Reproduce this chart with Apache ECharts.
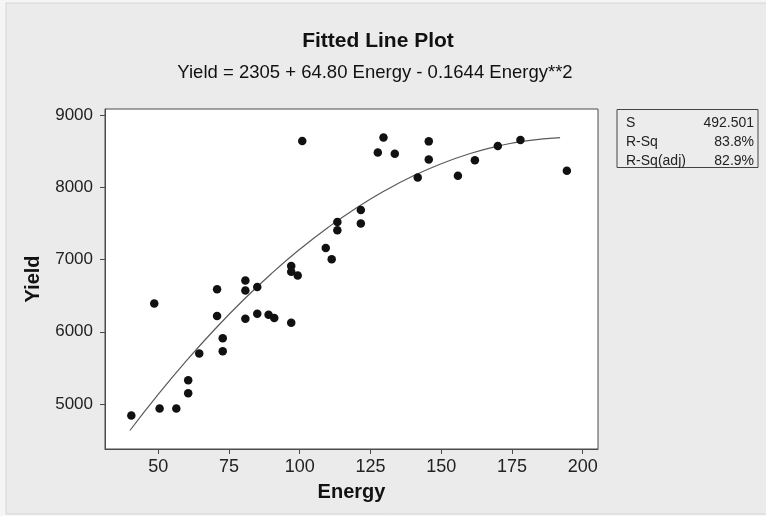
<!DOCTYPE html>
<html>
<head>
<meta charset="utf-8">
<script src="https://cdn.jsdelivr.net/npm/echarts@6/dist/echarts.min.js"></script>
<style>
html,body{margin:0;padding:0;background:#f5f5f5;}
#chart{width:766px;height:516px;}
</style>
</head>
<body>
<div id="chart"></div>
<script>
// ---- data ----
const energy = [40.5, 48.6, 50.5, 56.4, 60.6, 60.6, 64.5, 70.8, 70.8, 72.8, 72.8, 80.8, 80.8, 80.8, 85, 85, 89, 91, 97, 97, 97, 99.3, 100.9, 109.2, 111.3, 113.3, 113.3, 121.6, 121.6, 127.6, 129.6, 133.6, 141.7, 145.6, 145.6, 155.9, 161.9, 170, 178, 194.4];
const yieldVals = [4840, 6390, 4940, 4940, 5330, 5150, 5700, 6590, 6220, 5910, 5730, 6710, 6570, 6180, 6620, 6250, 6235, 6190, 6910, 6830, 6125, 6780, 8640, 7160, 7005, 7520, 7405, 7685, 7500, 8480, 8690, 8465, 8135, 8635, 8385, 8160, 8375, 8570, 8655, 8230];
const fitEnergy = [40, 50, 60, 70, 80, 90, 100, 110, 120, 130, 140, 150, 160, 170, 180, 192];
const fitYield = [4634, 5134, 5601, 6035, 6437, 6805, 7141, 7444, 7714, 7951, 8155, 8326, 8464, 8570, 8642, 8686];
const xTicks = [50, 75, 100, 125, 150, 175, 200];
const yTicks = [5000, 6000, 7000, 8000, 9000];
const statLabels = ['S', 'R-Sq', 'R-Sq(adj)'];
const statValues = ['492.501', '83.8%', '82.9%'];
const titleText = 'Fitted Line Plot';
const subTitleText = 'Yield = 2305 + 64.80 Energy - 0.1644 Energy**2';

const FONT = 'Liberation Sans, Arial, Helvetica, sans-serif';
const chart = echarts.init(document.getElementById('chart'), null, {renderer: 'canvas'});

const statGraphics = [];
const rowY = [122.7, 141.7, 161];
statLabels.forEach((s, i) => {
  statGraphics.push({type: 'text', x: 626, y: rowY[i], style: {text: s, font: '14px ' + FONT, fill: '#222', textVerticalAlign: 'middle', textAlign: 'left'}});
  statGraphics.push({type: 'text', x: 754, y: rowY[i], style: {text: statValues[i], font: '14px ' + FONT, fill: '#222', textVerticalAlign: 'middle', textAlign: 'right'}});
});

chart.setOption({
  backgroundColor: '#f5f5f5',
  animation: false,
  title: [
    {text: titleText, left: 373, top: 26, textAlign: 'center',
     textStyle: {fontFamily: FONT, fontSize: 21, fontWeight: 'bold', color: '#111'}},
    {text: subTitleText, left: 370, top: 58, textAlign: 'center',
     textStyle: {fontFamily: FONT, fontSize: 18.5, fontWeight: 'normal', color: '#111'}}
  ],
  graphic: [
    {type: 'rect', z: -10, shape: {x: 6, y: 3, width: 770, height: 511},
     style: {fill: '#ebebeb', stroke: '#d4d4d4', lineWidth: 1}},
    {type: 'rect', shape: {x: 617, y: 109.5, width: 141, height: 58},
     style: {fill: '#ececec', stroke: '#444', lineWidth: 1}},
    ...statGraphics
  ],
  grid: {left: 105, top: 109, right: 168, bottom: 67, show: true, backgroundColor: '#fff', borderColor: '#4a4a4a', borderWidth: 1, containLabel: false},
  xAxis: {
    type: 'value', min: 31.2, max: 205.4,
    name: 'Energy', nameLocation: 'middle', nameGap: 33,
    nameTextStyle: {fontFamily: FONT, fontSize: 20, fontWeight: 'bold', color: '#111'},
    axisLine: {show: true, lineStyle: {color: '#4a4a4a', width: 1}},
    axisTick: {show: true, customValues: xTicks, length: 5, inside: false, lineStyle: {color: '#4a4a4a'}},
    axisLabel: {customValues: xTicks, margin: 9, fontFamily: FONT, fontSize: 18, color: '#222', formatter: v => String(v)},
    splitLine: {show: false}
  },
  yAxis: {
    type: 'value', min: 4378, max: 9083,
    name: 'Yield', nameLocation: 'middle', nameGap: 62, nameRotate: 90,
    nameTextStyle: {fontFamily: FONT, fontSize: 20, fontWeight: 'bold', color: '#111'},
    axisLine: {show: true, lineStyle: {color: '#4a4a4a', width: 1}},
    axisTick: {show: true, customValues: yTicks, length: 5, inside: false, lineStyle: {color: '#4a4a4a'}},
    axisLabel: {customValues: yTicks, margin: 12, fontFamily: FONT, fontSize: 17, color: '#222', formatter: v => String(v)},
    splitLine: {show: false}
  },
  series: [
    {type: 'line', data: fitEnergy.map((e, i) => [e, fitYield[i]]), smooth: true, showSymbol: false, symbol: 'none',
     lineStyle: {color: '#5a5a5a', width: 1.2}, z: 2},
    {type: 'scatter', data: energy.map((e, i) => [e, yieldVals[i]]), symbol: 'circle', symbolSize: 8.5,
     itemStyle: {color: '#111', opacity: 1}, z: 3}
  ]
});
</script>
</body>
</html>
